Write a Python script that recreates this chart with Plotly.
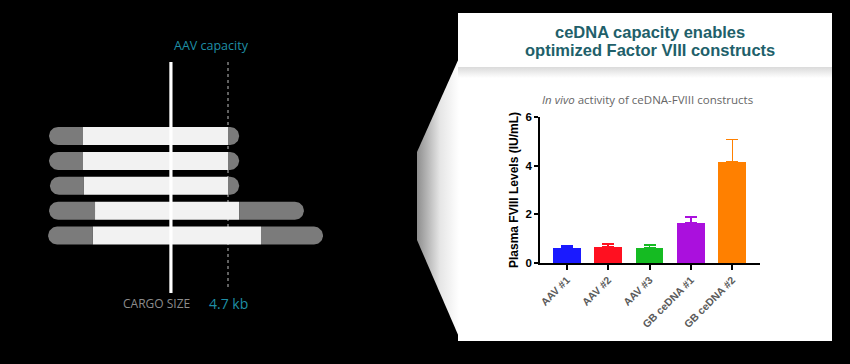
import numpy as np
import plotly.graph_objects as go

# ---------------- Bar chart data ----------------
categories = ["AAV #1", "AAV #2", "AAV #3", "GB ceDNA #1", "GB ceDNA #2"]
fviii_mean = [0.62, 0.65, 0.63, 1.64, 4.15]
fviii_err = [0.08, 0.13, 0.10, 0.25, 0.93]
bar_colors = ["#1a1aff", "#ff1020", "#15bb22", "#aa10dd", "#ff8000"]
y_ticks = [0, 2, 4, 6]

# ---------------- Schematic construct data (kb, relative to cargo start) ----------------
construct_left = [-1.10, -1.10, -1.07, -1.10, -1.13]
cargo_start = [0.0, 0.0, 0.03, 0.39, 0.32]
cargo_end = [4.70, 4.70, 4.70, 5.06, 5.77]
construct_right = [5.06, 5.06, 5.06, 7.16, 7.78]
aav_capacity_kb = 4.7

W, H = 850, 364
PX_PER_KB = 30.85
KB0_PX = 83.0
ROW0_PX = 136.0
PX_PER_ROW = 24.9

fig = go.Figure()

# ---- helper geometry for rounded segments (schematic axes x3/y3) ----
HALF_H = 9.0 / PX_PER_ROW
RX = 9.0 / PX_PER_KB


def rounded(x0, x1, yc, side):
    if side == "left":
        cx = x0 + RX
        th = np.linspace(np.pi / 2, 3 * np.pi / 2, 24)
        xs = list(cx + RX * np.cos(th)) + [x1, x1]
        ys = list(yc + HALF_H * np.sin(th)) + [yc - HALF_H, yc + HALF_H]
    else:
        cx = x1 - RX
        th = np.linspace(-np.pi / 2, np.pi / 2, 24)
        xs = list(cx + RX * np.cos(th)) + [x0, x0]
        ys = list(yc + HALF_H * np.sin(th)) + [yc + HALF_H, yc - HALF_H]
    return xs + [xs[0]], ys + [ys[0]]


# ---- callout wedge with gradient (pixel axes x/y) ----
fig.add_trace(go.Scatter(
    x=[459, 417, 417, 459, 459], y=[58, 152, 240, 337, 58],
    xaxis="x", yaxis="y", mode="lines", fill="toself",
    line=dict(width=0, color="rgba(0,0,0,0)"),
    fillgradient=dict(type="horizontal", start=417, stop=459,
                      colorscale=[[0, "#8e8e8e"], [0.55, "#e6e6e6"], [1, "#ffffff"]]),
    hoverinfo="skip", showlegend=False))

# ---- shadow under title box ----
fig.add_trace(go.Scatter(
    x=[458, 832, 832, 458, 458], y=[67, 67, 78, 78, 67],
    xaxis="x", yaxis="y", mode="lines", fill="toself",
    line=dict(width=0, color="rgba(0,0,0,0)"),
    fillgradient=dict(type="vertical", start=67, stop=78,
                      colorscale=[[0, "#dadada"], [1, "#ffffff"]]),
    hoverinfo="skip", showlegend=False))

# ---- schematic constructs ----
for i in range(len(construct_left)):
    fig.add_trace(go.Scatter(
        x=[cargo_start[i], cargo_end[i], cargo_end[i], cargo_start[i], cargo_start[i]],
        y=[i - HALF_H, i - HALF_H, i + HALF_H, i + HALF_H, i - HALF_H],
        xaxis="x3", yaxis="y3", mode="lines", fill="toself",
        fillcolor="#f2f2f2", line=dict(width=0, color="#f2f2f2"),
        hoverinfo="skip", showlegend=False))
    xs, ys = rounded(construct_left[i], cargo_start[i], i, "left")
    fig.add_trace(go.Scatter(
        x=xs, y=ys, xaxis="x3", yaxis="y3", mode="lines", fill="toself",
        fillcolor="#7b7b7b", line=dict(width=0, color="#7b7b7b"),
        hoverinfo="skip", showlegend=False))
    xs, ys = rounded(cargo_end[i], construct_right[i], i, "right")
    fig.add_trace(go.Scatter(
        x=xs, y=ys, xaxis="x3", yaxis="y3", mode="lines", fill="toself",
        fillcolor="#7b7b7b", line=dict(width=0, color="#7b7b7b"),
        hoverinfo="skip", showlegend=False))

# ---- bar chart ----
for cat, val, err, col in zip(categories, fviii_mean, fviii_err, bar_colors):
    fig.add_trace(go.Bar(
        x=[cat], y=[val], xaxis="x2", yaxis="y2",
        marker=dict(color=col, line=dict(width=0)), width=0.67,
        error_y=dict(type="data", symmetric=False, array=[err], arrayminus=[0],
                     color=col, thickness=1.5, width=6),
        hoverinfo="skip", showlegend=False))

top_row = (62 - ROW0_PX) / PX_PER_ROW
bot_row = (293 - ROW0_PX) / PX_PER_ROW

shapes = [
    dict(type="rect", xref="x", yref="y", x0=458, x1=832, y0=13, y1=341,
         fillcolor="#ffffff", line=dict(width=0), layer="below"),
    dict(type="line", xref="x3", yref="y3", x0=aav_capacity_kb, x1=aav_capacity_kb,
         y0=top_row, y1=(290 - ROW0_PX) / PX_PER_ROW,
         line=dict(color="#a0a0a0", width=1.2, dash="dot"), layer="below"),
    dict(type="line", xref="x3", yref="y3", x0=2.85, x1=2.85, y0=top_row, y1=bot_row,
         line=dict(color="#ffffff", width=3.2), layer="above"),
]

annotations = [
    dict(text="AAV capacity", xref="x", yref="y", x=211.5, y=45.5, showarrow=False,
         font=dict(family="Open Sans", size=12.5, color="#1f8fa6")),
    dict(text="CARGO SIZE", xref="x", yref="y", x=156, y=303, showarrow=False,
         font=dict(family="Open Sans", size=12, color="#8c8c8c")),
    dict(text="4.7 kb", xref="x3", yref="y", x=aav_capacity_kb, y=303, showarrow=False,
         font=dict(family="Open Sans", size=14, color="#1f8fa6")),
    dict(text="<b>ceDNA capacity enables</b>", xref="x", yref="y", x=649.5, y=32,
         showarrow=False, font=dict(family="Liberation Sans", size=16.5, color="#215f6a")),
    dict(text="<b>optimized Factor VIII constructs</b>", xref="x", yref="y", x=649.5, y=50,
         showarrow=False, font=dict(family="Liberation Sans", size=16.5, color="#215f6a")),
    dict(text="<i>In vivo</i> activity of ceDNA-FVIII constructs", xref="x", yref="y",
         x=647, y=99, showarrow=False,
         font=dict(family="Open Sans", size=11.5, color="#666666")),
]

fig.update_layout(
    template="none",
    width=W, height=H,
    margin=dict(l=0, r=0, t=0, b=0, pad=0, autoexpand=False),
    paper_bgcolor="#000000", plot_bgcolor="rgba(0,0,0,0)",
    barmode="overlay", bargap=0, showlegend=False,
    xaxis=dict(domain=[0, 1], range=[0, W], visible=False, fixedrange=True, automargin=False),
    yaxis=dict(domain=[0, 1], range=[H, 0], visible=False, fixedrange=True, automargin=False),
    xaxis2=dict(domain=[540 / W, 760 / W], anchor="y2", type="category",
                categoryorder="array", categoryarray=categories, automargin=False,
                range=[-0.65, 4.67], showline=True, linecolor="#000000", linewidth=1.8,
                ticks="outside", ticklen=5, tickwidth=1.5, tickcolor="#000000",
                tickangle=-45, showgrid=False, zeroline=False, fixedrange=True,
                tickfont=dict(family="Liberation Sans", size=10.5, color="#5a5a5a", weight="bold")),
    yaxis2=dict(domain=[1 - 263 / H, 1 - 117 / H], anchor="x2", range=[0, 6],
                tickvals=y_ticks, showline=True, linecolor="#000000", linewidth=1.8,
                ticks="outside", ticklen=4, tickwidth=1.5, tickcolor="#000000",
                showgrid=False, zeroline=False, automargin=False, fixedrange=True,
                tickfont=dict(family="Liberation Sans", size=11.5, color="#000000", weight="bold"),
                title=dict(text="<b>Plasma FVIII Levels (IU/mL)</b>", standoff=4,
                           font=dict(family="Liberation Sans", size=12, color="#000000"))),
    xaxis3=dict(domain=[0, 1], range=[-KB0_PX / PX_PER_KB, (W - KB0_PX) / PX_PER_KB],
                visible=False, fixedrange=True, anchor="y3", automargin=False),
    yaxis3=dict(domain=[0, 1], range=[(H - ROW0_PX) / PX_PER_ROW, -ROW0_PX / PX_PER_ROW],
                visible=False, fixedrange=True, anchor="x3", automargin=False),
    shapes=shapes, annotations=annotations,
)

fig.write_html("out.html", config={"displayModeBar": False},
               post_script="document.body.style.margin='0';document.body.style.background='#000';")
